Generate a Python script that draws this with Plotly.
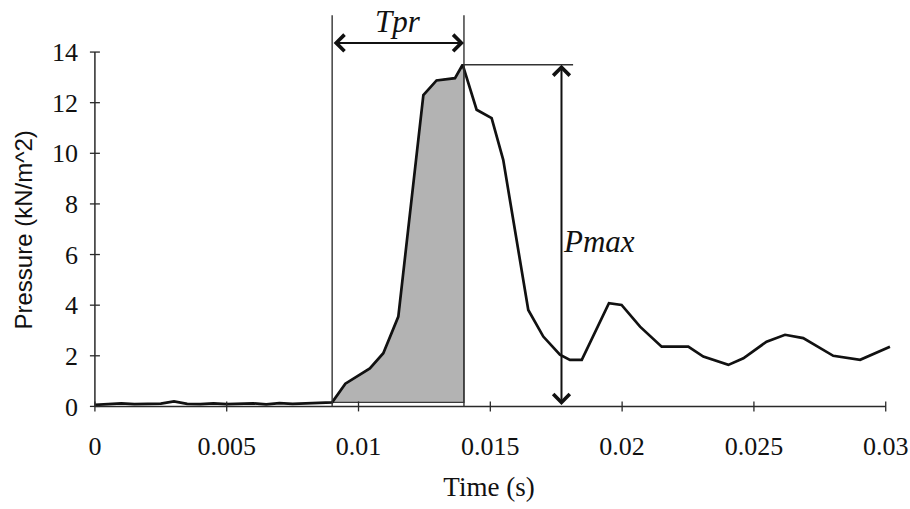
import plotly.graph_objects as go

# Pressure record (time in s, pressure in kN/m^2)
time_s = [0.0, 0.0005, 0.001, 0.0015, 0.002, 0.0025, 0.003, 0.0035, 0.004, 0.0045,
          0.005, 0.0055, 0.006, 0.0065, 0.007, 0.0075, 0.008, 0.0085, 0.009,
          0.0095, 0.01043, 0.01094, 0.01151, 0.01246, 0.01296, 0.01366, 0.01395,
          0.01448, 0.01505, 0.01549, 0.01644, 0.01701, 0.01764, 0.01802, 0.01847,
          0.0195, 0.01998, 0.02068, 0.0215, 0.02251, 0.02308, 0.02403, 0.0246,
          0.02548, 0.02618, 0.02687, 0.02751, 0.02801, 0.02903, 0.03016]
pressure = [0.06, 0.1, 0.12, 0.09, 0.1, 0.11, 0.2, 0.1, 0.09, 0.12,
            0.09, 0.1, 0.12, 0.08, 0.13, 0.1, 0.11, 0.12, 0.16,
            0.9, 1.5, 2.1, 3.55, 12.3, 12.88, 12.97, 13.5,
            11.72, 11.39, 9.74, 3.81, 2.76, 2.04, 1.84, 1.84,
            4.08, 4.01, 3.15, 2.36, 2.36, 1.97, 1.64, 1.9,
            2.56, 2.83, 2.7, 2.3, 2.0, 1.84, 2.36]

# Rise time window and peak
rise_start = 0.009
rise_end = 0.014
p_max = max(pressure)
pmax_time = 0.0177
pmax_line_end = 0.01814

x_ticks = [0, 0.005, 0.01, 0.015, 0.02, 0.025, 0.03]
x_tick_text = ["0", "0.005", "0.01", "0.015", "0.02", "0.025", "0.03"]
y_ticks = [0, 2, 4, 6, 8, 10, 12, 14]
y_tick_text = [str(v) for v in y_ticks]

X_RANGE = [-0.0003, 0.0302]
Y_RANGE = [-0.3, 14.2]


def ypaper(v):
    return (v - Y_RANGE[0]) / (Y_RANGE[1] - Y_RANGE[0])


INK = "#111111"
AXIS = "#2a2a2a"
serif = "Liberation Serif, Times New Roman, serif"
sans = "Liberation Sans, Arial, sans-serif"

fig = go.Figure()

# shaded rise-time area under the curve
sx = [t for t in time_s if rise_start <= t <= rise_end]
sy = [p for t, p in zip(time_s, pressure) if rise_start <= t <= rise_end]
base = sy[0]
fig.add_trace(go.Scatter(
    x=sx + [rise_end, rise_end, rise_start],
    y=sy + [sy[-1], base, base],
    fill="toself", fillcolor="#b3b3b3", mode="lines",
    line=dict(color="#3a3a3a", width=1.2), hoverinfo="skip", showlegend=False))

# pressure trace
fig.add_trace(go.Scatter(
    x=time_s, y=pressure, mode="lines",
    line=dict(color=INK, width=2.7), showlegend=False))

shapes = []
# axis lines
shapes.append(dict(type="line", xref="x", yref="y", x0=0, x1=x_ticks[-1], y0=0, y1=0,
                   line=dict(color=AXIS, width=1.5)))
shapes.append(dict(type="line", xref="x", yref="y", x0=0, x1=0, y0=0, y1=y_ticks[-1],
                   line=dict(color=AXIS, width=1.5)))
# cross tick marks
for tv in x_ticks:
    shapes.append(dict(type="line", xref="x", yref="y", x0=tv, x1=tv,
                       ysizemode="pixel", yanchor=0, y0=-5, y1=5,
                       line=dict(color=AXIS, width=1.3)))
for tv in y_ticks:
    shapes.append(dict(type="line", xref="x", yref="y", y0=tv, y1=tv,
                       xsizemode="pixel", xanchor=0, x0=-5, x1=5,
                       line=dict(color=AXIS, width=1.3)))
# rise-time boundaries
top_guide = ypaper(15.45)
for tv in (rise_start, rise_end):
    shapes.append(dict(type="line", xref="x", yref="paper", x0=tv, x1=tv,
                       y0=ypaper(0), y1=top_guide,
                       line=dict(color="#333333", width=1.4)))
# peak reference line
shapes.append(dict(type="line", xref="x", yref="y", x0=rise_end, x1=pmax_line_end,
                   y0=p_max, y1=p_max, line=dict(color="#333333", width=1.4)))

annotations = []
# Tpr double arrow
tpr_y = ypaper(14.36)
annotations.append(dict(
    x=rise_end, y=tpr_y, xref="x", yref="paper",
    ax=rise_start, ay=0, axref="x", ayref="pixel",
    text="", showarrow=True, arrowside="end+start", arrowhead=4,
    startarrowhead=4, arrowsize=1.6, startarrowsize=1.6, arrowwidth=2,
    arrowcolor=INK, standoff=0, startstandoff=0))
annotations.append(dict(
    x=(rise_start + rise_end) / 2, y=ypaper(15.2), xref="x", yref="paper",
    yanchor="middle", text="<i>Tpr</i>", showarrow=False,
    font=dict(family=serif, size=31, color=INK)))
# Pmax double arrow
annotations.append(dict(
    x=pmax_time, y=p_max, xref="x", yref="y",
    ax=pmax_time, ay=0, axref="x", ayref="y",
    text="", showarrow=True, arrowside="end+start", arrowhead=4,
    startarrowhead=4, arrowsize=1.6, startarrowsize=1.6, arrowwidth=2,
    arrowcolor=INK, standoff=0, startstandoff=0))
annotations.append(dict(
    x=pmax_time, y=6.5, xref="x", yref="y", xanchor="left",
    xshift=0, text="<i>Pmax</i>", showarrow=False,
    font=dict(family=serif, size=31, color=INK)))
# y-axis title, placed near the left edge
annotations.append(dict(
    x=0, y=0.5, xref="paper", yref="paper", xanchor="center", yanchor="middle",
    xshift=-64, textangle=-90, text="Pressure (kN/m^2)", showarrow=False,
    font=dict(family=sans, size=24, color=INK)))

fig.update_layout(
    width=910, height=509,
    margin=dict(l=87, r=19, t=47, b=95),
    paper_bgcolor="white", plot_bgcolor="white",
    showlegend=False,
    shapes=shapes, annotations=annotations,
    xaxis=dict(range=X_RANGE, showgrid=False, zeroline=False, showline=False,
               automargin=False,
               tickmode="array", tickvals=x_ticks, ticktext=x_tick_text,
               ticks="", ticklabelstandoff=14,
               tickfont=dict(family=serif, size=26, color=INK),
               title=dict(text="Time (s)", standoff=17,
                          font=dict(family=serif, size=27, color=INK))),
    yaxis=dict(range=Y_RANGE, showgrid=False, zeroline=False, showline=False,
               automargin=False,
               tickmode="array", tickvals=y_ticks, ticktext=y_tick_text,
               ticks="", ticklabelstandoff=8,
               tickfont=dict(family=serif, size=26, color=INK)),
)

fig.write_html("out.html")
